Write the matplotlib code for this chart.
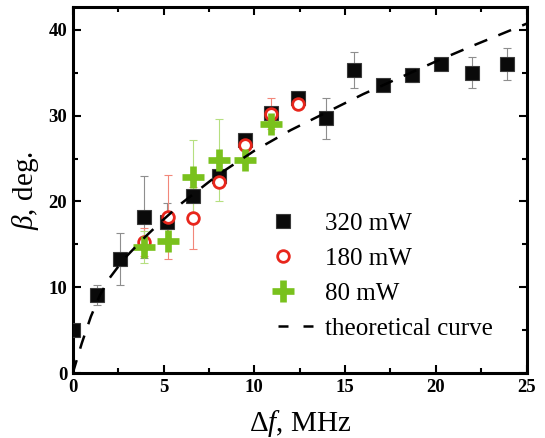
import numpy as np
import matplotlib
matplotlib.use("Agg")
import matplotlib.pyplot as plt
from matplotlib.lines import Line2D
from matplotlib.legend_handler import HandlerLine2D
from matplotlib.ticker import MultipleLocator

plt.rcParams['font.family'] = ['Liberation Serif', 'DejaVu Serif']
plt.rcParams['mathtext.fontset'] = 'custom'
plt.rcParams['mathtext.rm'] = 'Liberation Serif'
plt.rcParams['mathtext.it'] = 'Liberation Serif:italic'
plt.rcParams['mathtext.bf'] = 'Liberation Serif:bold'

# 320 mW measurements
p320_df = [0.0, 1.32, 2.6, 3.94, 5.2, 6.64, 8.06, 9.49, 10.92, 12.42,
           13.95, 15.49, 17.07, 18.68, 20.3, 21.99, 23.9]
p320_beta = [5.0, 9.1, 13.3, 18.2, 17.6, 20.6, 23.0, 27.2, 30.3, 32.0,
             29.7, 35.3, 33.5, 34.7, 36.0, 35.0, 36.0]
p320_err = [0.0, 1.2, 3.0, 4.8, 2.2, 0.0, 0.0, 0.0, 0.0, 0.0,
            2.4, 2.1, 0.0, 0.8, 0.0, 1.8, 1.85]

# 180 mW measurements
p180_df = [3.94, 5.27, 6.64, 8.06, 9.49, 10.92, 12.42]
p180_beta = [15.3, 18.2, 18.1, 22.3, 26.6, 30.2, 31.4]
p180_err = [1.6, 4.9, 3.6, 0.0, 0.0, 1.8, 0.0]

# 80 mW measurements
p80_df = [3.94, 5.27, 6.64, 8.06, 9.49, 10.92]
p80_beta = [14.7, 15.4, 22.9, 24.8, 24.8, 29.0]
p80_err = [1.9, 0.0, 4.2, 4.8, 0.0, 0.0]

# theoretical curve
theory_df = [0.0, 0.5, 1.0, 1.5, 2.0, 2.5, 3.0, 4.0, 5.0, 6.0, 8.0,
             10.0, 12.0, 14.0, 16.0, 18.0, 20.0, 22.0, 25.0]
theory_beta = [0.0, 3.5, 6.6, 9.1, 11.0, 12.4, 13.7, 15.9, 17.9, 19.8, 23.1,
               25.9, 28.3, 30.4, 32.5, 34.4, 36.3, 38.1, 40.7]

labels = ['320 mW', '180 mW', '80 mW', 'theoretical curve']


class LeftMarkerHandler(HandlerLine2D):
    """Legend handler that puts the single marker near the left end."""

    def create_artists(self, legend, orig_handle, xdescent, ydescent,
                       width, height, fontsize, trans):
        artists = super().create_artists(legend, orig_handle, xdescent,
                                         ydescent, width, height, fontsize,
                                         trans)
        line = artists[0]
        xd = np.asarray(line.get_xdata(), float)
        if len(xd) == 3:
            line.set_xdata([xd[0], xd[0] + 0.15 * (xd[2] - xd[0]), xd[2]])
        return artists


fig = plt.figure(figsize=(5.45, 4.38), dpi=100)
ax = fig.add_axes([0.1334, 0.1477, 0.8330, 0.8356])


def draw_errors(x, y, err, color):
    x = np.asarray(x); y = np.asarray(y); err = np.asarray(err)
    m = err > 0
    ax.errorbar(x[m], y[m], yerr=err[m], fmt='none', ecolor=color,
                elinewidth=0.8, capsize=3.2, capthick=0.8, zorder=2)


draw_errors(p320_df, p320_beta, p320_err, '#8e8e8e')
draw_errors(p180_df, p180_beta, p180_err, '#f2877a')
draw_errors(p80_df, p80_beta, p80_err, '#b6df80')

h320, = ax.plot(p320_df, p320_beta, linestyle='none', marker='s',
                markersize=9.4, markerfacecolor='#0a0a0a',
                markeredgecolor='#3a3a3a', markeredgewidth=0.8, zorder=3)
h180, = ax.plot(p180_df, p180_beta, linestyle='none', marker='o',
                markersize=8.4, markerfacecolor='white',
                markeredgecolor='#e8261c', markeredgewidth=2.0, zorder=4)
h80, = ax.plot(p80_df, p80_beta, linestyle='none', marker='+',
               markersize=16.5, markeredgecolor='#79c11d',
               markeredgewidth=4.8, zorder=5)
ax.plot(theory_df, theory_beta, color='black', linewidth=1.8,
        dashes=(5.5, 4.8), zorder=6)
h_theory = Line2D([], [], color='black', linewidth=1.8, dashes=(4, 6))

ax.set_xlim(0, 25)
ax.set_ylim(0, 42.6)

ax.xaxis.set_major_locator(MultipleLocator(5))
ax.xaxis.set_minor_locator(MultipleLocator(2.5))
ax.yaxis.set_major_locator(MultipleLocator(10))
ax.yaxis.set_minor_locator(MultipleLocator(5))

ax.tick_params(which='both', direction='in', top=True, right=True,
               width=1.5)
ax.tick_params(which='major', length=6, pad=4, labelsize=13.5)
ax.tick_params(which='minor', length=3.6)
for lab in ax.get_xticklabels() + ax.get_yticklabels():
    lab.set_fontweight('bold')

for sp in ax.spines.values():
    sp.set_linewidth(2.2)

ax.set_xlabel(r'$\Delta f$, MHz', fontsize=21, labelpad=9)
ax.set_ylabel(r'$\beta$, deg.', fontsize=21, labelpad=5)

ax.legend([h320, h180, h80, h_theory], labels, numpoints=1,
          handler_map={Line2D: LeftMarkerHandler()},
          frameon=False, fontsize=18, handlelength=1.4,
          handletextpad=0.48, labelspacing=0.5, borderpad=0.4,
          borderaxespad=0, loc='center left',
          bbox_to_anchor=((278 - 10) / 545, 1 - 276 / 438),
          bbox_transform=fig.transFigure)

fig.savefig('out.png', dpi=100)
